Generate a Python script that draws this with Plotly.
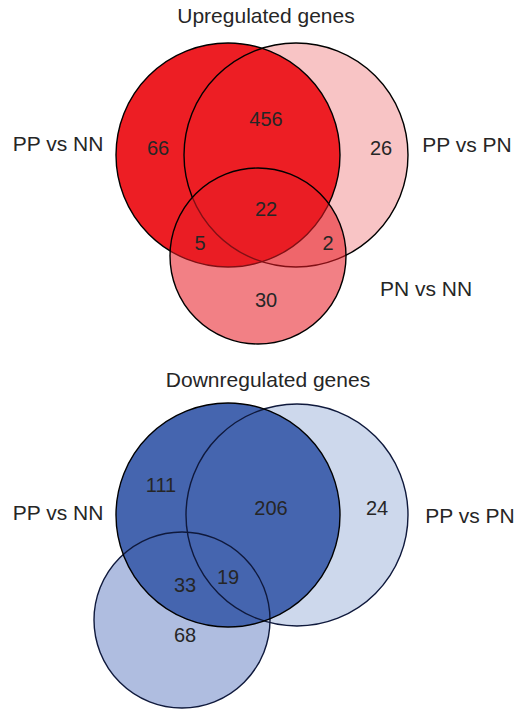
import plotly.graph_objects as go

# ---------------- data ----------------
up_title = "Upregulated genes"
down_title = "Downregulated genes"
up_sets = ["PP vs NN", "PP vs PN", "PN vs NN"]
down_sets = ["PP vs NN", "PP vs PN", ""]
# region counts: A only, A&B, B only, A&B&C, A&C, B&C, C only
up_regions = ["A", "AB", "B", "ABC", "AC", "BC", "C"]
up_counts = [66, 456, 26, 22, 5, 2, 30]
down_regions = ["A", "AB", "B", "AC", "ABC", "C"]
down_counts = [111, 206, 24, 33, 19, 68]

# ---------------- layout (pixel geometry) ----------------
W, H = 516, 711
up_geo = {
    "circles": {"A": (228, 155, 112), "B": (296, 155, 112), "C": (258, 256, 88)},
    "labels": [(58, 146), (467, 147), (426, 291)],
    "title": (266, 18),
    "regions": {"A": (158, 150), "AB": (266, 121), "B": (381, 150), "ABC": (266, 211),
                "AC": (200, 245), "BC": (328, 245), "C": (266, 302)},
}
down_geo = {
    "circles": {"A": (228, 515, 112), "B": (297, 515, 111), "C": (182, 620, 88)},
    "labels": [(58, 515), (470, 518), None],
    "title": (268, 382),
    "regions": {"A": (161, 487), "AB": (271, 510), "B": (377, 510),
                "AC": (185, 587), "ABC": (228, 579), "C": (185, 637)},
}

FONT = "Liberation Sans, Arial, Helvetica, sans-serif"
TXT = "#262626"
NUM_SIZE = 20
LAB_SIZE = 21

shapes = []


def circ(c, fill=None, line=True, lw=1.4, lc="black"):
    x, y, r = c
    d = dict(type="circle", xref="x", yref="y", x0=x - r, x1=x + r, y0=y - r, y1=y + r,
             layer="below")
    d["fillcolor"] = fill if fill else "rgba(0,0,0,0)"
    d["line"] = dict(color=lc, width=lw) if line else dict(width=0)
    return d


# top diagram
cu = up_geo["circles"]
shapes.append(circ(cu["B"], fill="rgb(248,196,197)", line=False))
shapes.append(circ(cu["A"], fill="rgb(237,30,36)", line=False))
shapes.append(circ(cu["A"]))
shapes.append(circ(cu["B"]))
shapes.append(circ(cu["C"], fill="rgba(232,28,38,0.56)", line=False))
shapes.append(circ(cu["C"]))

# bottom diagram
cd = down_geo["circles"]
shapes.append(circ(cd["C"], fill="rgb(175,189,224)", line=False))
shapes.append(circ(cd["B"], fill="rgb(205,216,236)", line=False))
shapes.append(circ(cd["A"], fill="rgb(69,101,175)", line=False))
shapes.append(circ(cd["C"], lc="rgb(15,25,60)"))
shapes.append(circ(cd["B"], lc="rgb(15,25,60)"))
shapes.append(circ(cd["A"]))

fig = go.Figure()


def add_text(xs, ys, texts, size):
    fig.add_trace(go.Scatter(x=xs, y=ys, text=texts, mode="text", textposition="middle center",
                             textfont=dict(family=FONT, size=size, color=TXT),
                             hoverinfo="skip", showlegend=False))


for geo, regs, counts, sets, title in [
    (up_geo, up_regions, up_counts, up_sets, up_title),
    (down_geo, down_regions, down_counts, down_sets, down_title),
]:
    xs = [geo["regions"][r][0] for r in regs]
    ys = [geo["regions"][r][1] for r in regs]
    add_text(xs, ys, [str(c) for c in counts], NUM_SIZE)
    lx, ly, lt = [], [], []
    for s, p in zip(sets, geo["labels"]):
        if s and p:
            lx.append(p[0]); ly.append(p[1]); lt.append(s)
    lx.append(geo["title"][0]); ly.append(geo["title"][1]); lt.append(title)
    add_text(lx, ly, lt, LAB_SIZE)

fig.update_layout(
    width=W, height=H, margin=dict(l=0, r=0, t=0, b=0),
    paper_bgcolor="white", plot_bgcolor="white",
    shapes=shapes,
    xaxis=dict(range=[0, W], visible=False, fixedrange=True),
    yaxis=dict(range=[H, 0], visible=False, fixedrange=True),
)
fig.write_html("out.html", config={"displayModeBar": False},
               post_script="document.body.style.margin='0';document.body.style.overflow='hidden';")
